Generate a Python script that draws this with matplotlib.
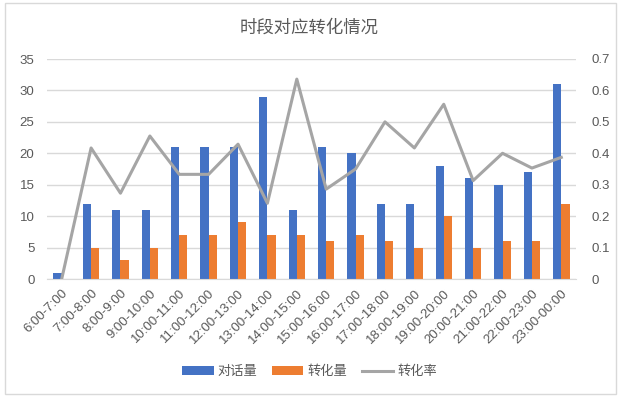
import numpy as np
import matplotlib
matplotlib.use("Agg")
import matplotlib.pyplot as plt
from matplotlib.patches import Rectangle

plt.rcParams['font.family'] = ['Liberation Sans', 'Noto Sans CJK SC', 'DejaVu Sans']

periods = ["6:00-7:00", "7:00-8:00", "8:00-9:00", "9:00-10:00", "10:00-11:00",
           "11:00-12:00", "12:00-13:00", "13:00-14:00", "14:00-15:00", "15:00-16:00",
           "16:00-17:00", "17:00-18:00", "18:00-19:00", "19:00-20:00", "20:00-21:00",
           "21:00-22:00", "22:00-23:00", "23:00-00:00"]
chats = [1, 12, 11, 11, 21, 21, 21, 29, 11, 21, 20, 12, 12, 18, 16, 15, 17, 31]
conversions = [0, 5, 3, 5, 7, 7, 9, 7, 7, 6, 7, 6, 5, 10, 5, 6, 6, 12]
rate = [0, 0.417, 0.273, 0.455, 0.333, 0.333, 0.429, 0.241, 0.636, 0.286,
        0.35, 0.5, 0.417, 0.556, 0.313, 0.4, 0.353, 0.387]

blue = "#4472C4"
orange = "#ED7D31"
grey = "#A5A5A5"
txt = "#595959"

fig = plt.figure(figsize=(6.19, 3.98), dpi=100)
fig.patches.append(Rectangle((5 / 619, 4 / 398), 611 / 619, 391 / 398,
                             transform=fig.transFigure, fill=False,
                             edgecolor="#D9D9D9", linewidth=1))

ax = fig.add_axes([47 / 619, 1 - 279 / 398, 529 / 619, 220 / 398])
x = np.arange(len(periods))
w = 0.28
b1 = ax.bar(x - w / 2, chats, w, color=blue, label="对话量", zorder=2)
b2 = ax.bar(x + w / 2, conversions, w, color=orange, label="转化量", zorder=2)

ax.set_xlim(-0.5, len(periods) - 0.5)
ax.set_ylim(0, 35)
ax.set_yticks(range(0, 36, 5))
ax.grid(axis="y", color="#D9D9D9", linewidth=1, zorder=0)
for s in ["top", "right", "left"]:
    ax.spines[s].set_visible(False)
ax.spines["bottom"].set_color("#D9D9D9")
ax.tick_params(axis="both", length=0, colors=txt, labelsize=9.5)
ax.tick_params(axis="y", pad=9)
ax.tick_params(axis="x", pad=6)
ax.set_xticks(x)
ax.set_xticklabels(periods, rotation=45, ha="right", rotation_mode="anchor")

ax2 = ax.twinx()
l1, = ax2.plot(x, rate, color=grey, linewidth=2.2, label="转化率", zorder=3)
ax2.set_ylim(0, 0.7)
ax2.set_yticks(np.arange(0, 0.71, 0.1))
ax2.set_yticklabels(["0", "0.1", "0.2", "0.3", "0.4", "0.5", "0.6", "0.7"])
for s in ax2.spines.values():
    s.set_visible(False)
ax2.tick_params(axis="y", length=0, colors=txt, labelsize=9.5, pad=11)

fig.text(0.5, 1 - 27 / 398, "时段对应转化情况", ha="center", va="center",
         fontsize=12.5, color=txt)

fig.legend([b1, b2, l1], ["对话量", "转化量", "转化率"], loc="center",
           bbox_to_anchor=(0.5, 1 - 372 / 398), ncol=3, frameon=False,
           fontsize=9.5, labelcolor=txt, handlelength=2.4, handleheight=0.65,
           columnspacing=1.1, handletextpad=0.3)

fig.savefig("out.png", dpi=100)
